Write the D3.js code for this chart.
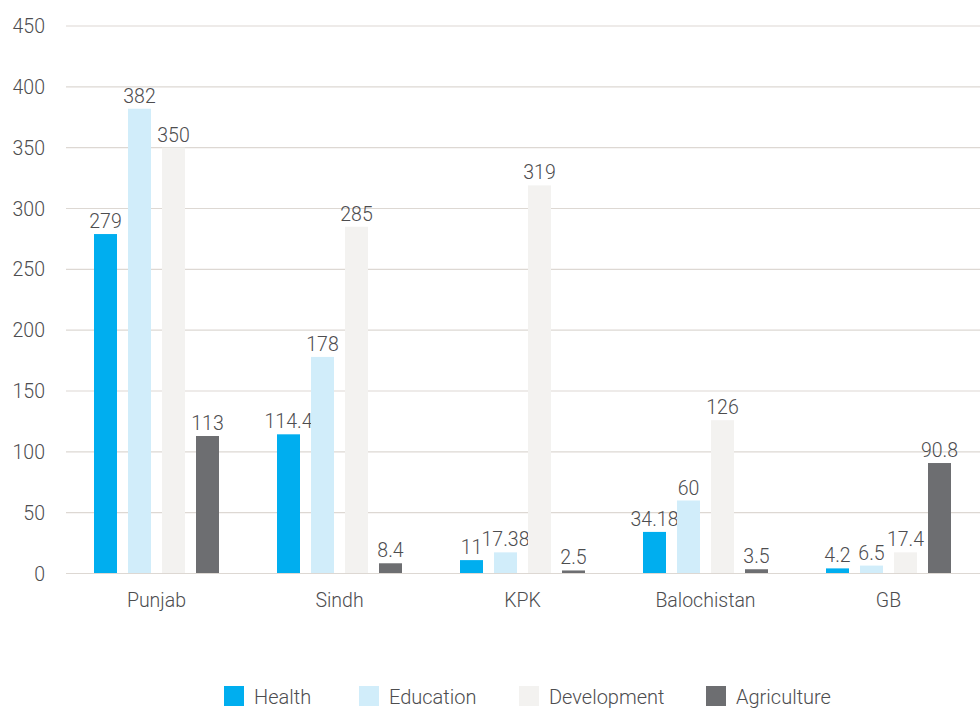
<!DOCTYPE html>
<html><head><meta charset="utf-8">
<script src="https://cdn.jsdelivr.net/npm/d3@7"></script>
<style>
body{margin:0;background:#fff;}
svg text{font-family:"Roboto","Liberation Sans",sans-serif;font-weight:300;fill:#4d4d4f;}
</style></head>
<body><svg id="c" width="980" height="708"></svg>
<script>
const categories = ["Punjab","Sindh","KPK","Balochistan","GB"];
const seriesNames = ["Health","Education","Development","Agriculture"];
const health = [279,114.4,11,34.18,4.2];
const education = [382,178,17.38,60,6.5];
const development = [350,285,319,126,17.4];
const agriculture = [113,8.4,2.5,3.5,90.8];
const yTicks = [0,50,100,150,200,250,300,350,400,450];
const colors = ["#00aeef","#d1edfa","#f3f2f0","#6d6e71"];

const series = [health,education,development,agriculture];
const svg = d3.select("#c");
const m = {left:65,right:980,top:26,bottom:573.5};
const x = d3.scaleBand().domain(categories).range([m.left,m.right]);
const xs = d3.scaleBand().domain(seriesNames).range([29,154]).paddingInner(11/34).paddingOuter(0);
const y = d3.scaleLinear().domain([0,450]).range([m.bottom,m.top]);
const fs = 19.5;

svg.append("g").selectAll("line").data(yTicks).join("line")
  .attr("x1",m.left+1).attr("x2",m.right).attr("y1",d=>y(d)).attr("y2",d=>y(d))
  .attr("stroke","#ddd8d3").attr("stroke-width",1.2);
svg.append("g").selectAll("text").data(yTicks).join("text")
  .attr("x",45).attr("y",d=>y(d)+7).attr("text-anchor","end")
  .attr("font-size",fs).text(d=>d);
const g = svg.append("g");
series.forEach((vals,si)=>{
  const s = seriesNames[si];
  g.append("g").selectAll("rect").data(vals).join("rect")
    .attr("x",(d,i)=>x(categories[i])+xs(s)).attr("width",xs.bandwidth())
    .attr("y",d=>y(d)).attr("height",d=>y(0)-y(d)).attr("fill",colors[si]);
  g.append("g").selectAll("text").data(vals).join("text")
    .attr("x",(d,i)=>x(categories[i])+xs(s)+xs.bandwidth()/2)
    .attr("y",d=>y(d)-6).attr("text-anchor","middle").attr("font-size",fs)
    .text(d=>d);
});
svg.append("line").attr("x1",m.left+1).attr("x2",m.right).attr("y1",y(0)).attr("y2",y(0))
  .attr("stroke","#ddd8d3").attr("stroke-width",1.2);
svg.append("g").selectAll("text").data(categories).join("text")
  .attr("x",d=>x(d)+x.bandwidth()/2).attr("y",607).attr("text-anchor","middle")
  .attr("font-size",fs).text(d=>d);
const legX = [224,359,519,706];
const lg = svg.append("g").selectAll("g").data(seriesNames).join("g")
  .attr("transform",(d,i)=>`translate(${legX[i]},686)`);
lg.append("rect").attr("width",20).attr("height",20).attr("fill",(d,i)=>colors[i]);
lg.append("text").attr("x",30).attr("y",17.5).attr("font-size",20).text(d=>d);
</script></body></html>
